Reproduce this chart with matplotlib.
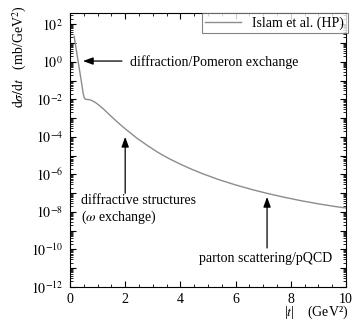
import matplotlib
matplotlib.use('Agg')
import matplotlib.pyplot as plt
import numpy as np
from matplotlib.ticker import FixedLocator, NullFormatter

plt.rcParams['font.family'] = ['Liberation Serif', 'DejaVu Serif']
plt.rcParams['mathtext.fontset'] = 'stix'

# curve: |t| (GeV^2) and dsigma/dt (mb/GeV^2)
t_vals = [0.15, 0.2, 0.3, 0.4, 0.48, 0.52, 0.56, 0.65, 0.72, 0.8, 0.9, 1.0,
          1.2, 1.4, 1.6, 1.8, 2.0, 2.4, 2.8, 3.2, 3.6, 4.0, 4.4, 4.8, 5.4,
          6.0, 6.6, 7.2, 7.8, 8.4, 9.0, 9.6, 10.0]
dsig_vals = [2.3e1, 7.9e0, 9.5e-1, 1.15e-1, 2.0e-2, 1.17e-2, 1.0e-2, 9.8e-3,
             9.5e-3, 8.5e-3, 7.1e-3, 5.6e-3, 3.2e-3, 1.66e-3, 8.9e-4, 4.8e-4,
             2.7e-4, 9.1e-5, 3.5e-5, 1.45e-5, 6.8e-6, 3.5e-6, 1.9e-6, 1.1e-6,
             5.2e-7, 2.75e-7, 1.55e-7, 9.3e-8, 5.9e-8, 3.9e-8, 2.7e-8, 1.95e-8,
             1.62e-8]

x_ticks = [0, 2, 4, 6, 8, 10]
y_decades = list(range(-12, 3))

fig = plt.figure(figsize=(3.58, 3.24), dpi=100)
ax = fig.add_axes([0.1955, 0.1142, 0.7710, 0.8457])

ax.plot(t_vals, dsig_vals, color='#8c8c8c', lw=1.0, label='Islam et al. (HP)')

ax.set_yscale('log')
ax.set_xlim(0, 10)
ax.set_ylim(1e-12, 4e2)

# ticks: inward on all sides
ax.set_xticks(x_ticks)
ax.xaxis.set_minor_locator(FixedLocator(np.arange(0, 10.01, 0.5)))
ax.yaxis.set_major_locator(FixedLocator([10.0**d for d in y_decades]))
ax.set_yticklabels([r'$10^{%d}$' % d if d % 2 == 0 else '' for d in y_decades])
ax.yaxis.set_minor_locator(FixedLocator([s * 10.0**d for d in y_decades for s in range(2, 10)]))
ax.yaxis.set_minor_formatter(NullFormatter())
ax.tick_params(which='both', direction='in', top=True, right=True, labelsize=10)
ax.tick_params(which='major', length=4, width=0.8)
ax.tick_params(which='minor', length=2.5, width=0.6)
ax.tick_params(axis='y', pad=5)
ax.tick_params(axis='x', pad=4)

fig.text(0.056, 0.985, r'$\mathrm{d}\sigma/\mathrm{d}t$   (mb/GeV$^2$)', rotation=90,
         ha='center', va='top', fontsize=10)
fig.text(0.972, 0.008, '|$t$|    (GeV²)', ha='right', va='bottom', fontsize=10)

arrow = dict(arrowstyle='-|>,head_length=0.6,head_width=0.22', color='black', lw=0.9,
             shrinkA=0, shrinkB=0)
ax.annotate('', xy=(0.47, 1.1), xytext=(1.88, 1.1), arrowprops=arrow)
ax.text(2.17, 1.0, 'diffraction/Pomeron exchange', ha='left', va='center', fontsize=10)

ax.annotate('', xy=(2.0, 1e-4), xytext=(2.0, 1.0e-7), arrowprops=arrow)
ax.text(0.4, 1.3e-8, 'diffractive structures\n($\\omega$ exchange)', ha='left', va='center',
        fontsize=10, linespacing=1.1)

ax.annotate('', xy=(7.14, 6.3e-8), xytext=(7.14, 1.2e-10), arrowprops=arrow)
ax.text(7.08, 3.2e-11, 'parton scattering/pQCD', ha='center', va='center', fontsize=10)

leg = ax.legend(loc='upper right', bbox_to_anchor=(1.006, 1.0), borderaxespad=0,
                fontsize=10, fancybox=False, handlelength=2.6, borderpad=0.25)
leg.get_frame().set_edgecolor('#666666')
leg.get_frame().set_linewidth(0.8)

fig.savefig('out.png', dpi=100)
